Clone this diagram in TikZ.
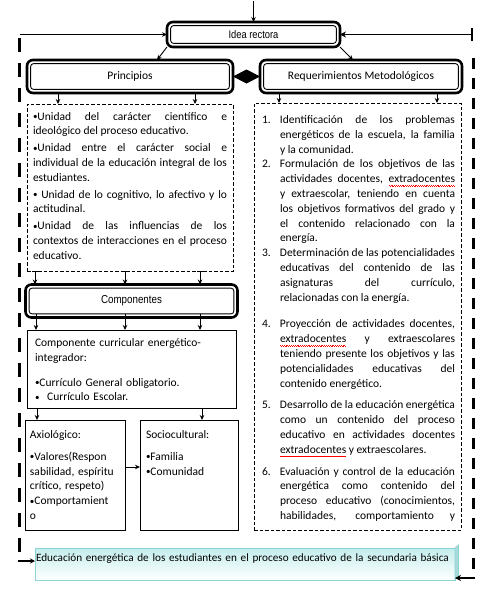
\documentclass[tikz,border=0pt]{standalone}
\usepackage{fontspec}
\setmainfont{Carlito}
\newfontfamily\arialn[FakeStretch=0.85]{Liberation Sans}
\usetikzlibrary{arrows.meta,calc}
\definecolor{cyanborder}{HTML}{8CD3D3}
\definecolor{cyantop}{HTML}{C4EDED}
\definecolor{cyanface}{HTML}{A9DADA}
\newsavebox\spellbox
\newcommand\spell[1]{\sbox\spellbox{#1}\rlap{\color{red}\hbox to \wd\spellbox{\xleaders\hbox{\vrule width 0.9pt height -2.2pt depth 2.9pt\vrule width 0.9pt height -2.8pt depth 3.5pt}\hfil}}\usebox\spellbox}
\newcommand\numit[1]{\noindent\hangindent=18pt\hangafter=1\makebox[18pt][l]{#1}}
\newcommand\bul{{\fontsize{9}{9}\selectfont\raisebox{0.6pt}{•}}}
\begin{document}
\begin{tikzpicture}[x=1pt,y=-1pt,
  every node/.style={outer sep=0pt},
  dblbox/.style={draw, line width=2.6pt, rounded corners=6pt, inner sep=0pt,
     font=\fontsize{11.5}{13}\selectfont},
  innerline/.style={draw, line width=0.9pt, rounded corners=3pt},
  dashbox/.style={draw, line width=0.8pt, dash pattern=on 3.5pt off 2pt, inner sep=0pt},
  sbox/.style={draw, line width=0.9pt, inner sep=0pt},
  botbox/.style={draw=cyanborder, line width=0.9pt, top color=cyantop, bottom color=white, inner sep=0pt},
  jtxt/.style={inner sep=0pt, anchor=base west, align=justify,
     font=\fontsize{11.5}{14.8}\selectfont},
  ltxt/.style={inner sep=0pt, anchor=base west, align=left,
     font=\fontsize{11.5}{14.8}\selectfont},
  arr/.style={line width=0.9pt, -{Stealth[length=5pt,width=4.5pt]}},
  barr/.style={line width=0.9pt, {Bar[width=6pt]}-{Stealth[length=5pt,width=4.5pt]}},
  thickarr/.style={line width=1.8pt, -{Stealth[length=6pt,width=6pt]}},
  ldash/.style={line width=3pt, dash pattern=on 14pt off 11pt},
  rdash/.style={line width=3pt, dash pattern=on 11pt off 9pt},
]
\useasboundingbox (0,0) rectangle (483,592);
\fill[white] (0,0) rectangle (483,592);

% boxes
\node[dblbox, minimum width=173pt, minimum height=25pt, font=\arialn\fontsize{11}{13}\selectfont] (idea) at (253.5,34.5) {Idea rectora};
\node[dblbox, minimum width=206pt, minimum height=33pt] (princ) at (130,76.5) {Principios};
\node[dblbox, minimum width=202pt, minimum height=33pt] (req) at (361,76.5) {Requerimientos Metodológicos};
\node[dashbox, minimum width=206pt, minimum height=167pt] (pbox) at (130,187.5) {};
\node[dblbox, minimum width=212pt, minimum height=33pt, font=\arialn\fontsize{11.5}{13}\selectfont] (comp) at (131.5,301) {Componentes};
\node[sbox, minimum width=209pt, minimum height=78pt] (curr) at (131.5,369) {};
\node[sbox, minimum width=100pt, minimum height=110pt] (axio) at (75,475) {};
\node[sbox, minimum width=98pt, minimum height=110pt] (socio) at (189,475) {};
\node[dashbox, minimum width=207pt, minimum height=427pt] (rbox) at (357.5,316.5) {};
\node[botbox, minimum width=420pt, minimum height=32pt] (bottom) at (245,564) {};
\filldraw[draw=cyanborder, fill=cyanface, line width=0.6pt] (bottom.north east) -- ++(3.5,-3) -- ++(0,31) -- (bottom.south east) -- cycle;

\foreach \n in {idea,princ,req,comp}
  \draw[innerline] ([shift={(3.6pt,-3.6pt)}]\n.north west) rectangle ([shift={(-3.6pt,3.6pt)}]\n.south east);

% texts
\node[jtxt, text width=194pt] (ptxt) at (33,120) {%
\bul Unidad del carácter científico e\linebreak ideológico del proceso educativo.\par\vspace{2pt}
\bul Unidad entre el carácter social e\linebreak individual de la educación integral de los\linebreak estudiantes.\par\vspace{2pt}
\bul\ Unidad de lo cognitivo, lo afectivo y lo\linebreak actitudinal.\par\vspace{2pt}
\bul Unidad de las influencias de los\linebreak contextos de interacciones en el proceso\linebreak educativo.\par};

\node[jtxt, text width=193pt] (rtxt) at (262,123.5) {%
\numit{1.}Identificación de los problemas\linebreak energéticos de la escuela, la familia\linebreak y la comunidad.\par
\numit{2.}Formulación de los objetivos de las\linebreak actividades docentes, \spell{extradocentes}\linebreak y extraescolar, teniendo en cuenta\linebreak los objetivos formativos del grado y\linebreak el contenido relacionado con la\linebreak energía.\par
\numit{3.}Determinación de las potencialidades\linebreak educativas del contenido de las\linebreak asignaturas del currículo,\linebreak relacionadas con la energía.\par\vspace{12pt}
\numit{4.}Proyección de actividades docentes,\linebreak \spell{extradocentes} y extraescolares\linebreak teniendo presente los objetivos y las\linebreak potencialidades educativas del\linebreak contenido energético.\par\vspace{7pt}
\numit{5.}Desarrollo de la educación energética\linebreak como un contenido del proceso\linebreak educativo en actividades docentes\linebreak \spell{extradocentes} y extraescolares.\par\vspace{7pt}
\numit{6.}Evaluación y control de la educación\linebreak energética como contenido del\linebreak proceso educativo (conocimientos,\linebreak habilidades, comportamiento y\parfillskip=0pt\par};

\node[ltxt, text width=200pt] (ctxt) at (35,346.5) {Componente curricular energético-\\integrador:\\[10pt]\bul Currículo General obligatorio.\\\bul\ \ Currículo Escolar.};
\node[ltxt, text width=95pt] (atxt) at (30,438.5) {Axiológico:\\[7pt]\bul Valores(Respon\\sabilidad, espíritu\\crítico, respeto)\\\bul Comportamient\\o};
\node[ltxt, text width=90pt] (stxt) at (146,438.5) {Sociocultural:\\[7pt]\bul Familia\\\bul Comunidad};
\node[ltxt, text width=425pt, font=\fontsize{11.2}{13}\selectfont] (btxt) at (36,561) {Educación energética de los estudiantes en el proceso educativo de la secundaria básica};

% connectors
\coordinate (topc) at (253.5,1);
\coordinate (lt) at (20,34.5);
\coordinate (rt) at (473,34.5);
\coordinate (l1) at (19,38);
\coordinate (l2) at (19,561);
\coordinate (r1) at (473,58);
\coordinate (r2) at (473,578);

\draw[arr] (topc) -- (idea.north);
\draw[arr] (lt) -- (idea.west);
\draw[line width=1.8pt, {Bar[width=13pt]}-{Stealth[length=6pt,width=6pt]}] (rt) -- (idea.east);
\draw[arr] (idea.south west) -- ([xshift=27pt]princ.north);
\draw[arr] (idea.south east) -- ([xshift=-8pt]req.north);
\draw[line width=0.8pt, -{Diamond[length=27pt,width=14pt]}] (princ.east) -- (req.west);

\draw[arr] ([xshift=-72pt]princ.south) -- ([xshift=-72pt]pbox.north);
\draw[barr] ([xshift=65pt]princ.south) -- ([xshift=65pt]pbox.north);
\draw[arr] ([xshift=-82pt]req.south) -- ([xshift=-78.5pt]rbox.north);
\draw[arr] ([xshift=76pt]req.south) -- ([xshift=79.5pt]rbox.north);

\draw[barr] ([xshift=-95pt]pbox.south) -- ([xshift=-96.5pt]comp.north);
\draw[barr] ([xshift=-5pt]pbox.south) -- ([xshift=-6.5pt]comp.north);
\draw[barr] ([xshift=70pt]pbox.south) -- ([xshift=68.5pt]comp.north);

\draw[arr] ([xshift=-95.5pt,yshift=4pt]comp.south) -- ([xshift=-95.5pt]curr.north);
\draw[arr] ([xshift=-6.5pt,yshift=4pt]comp.south) -- ([xshift=-6.5pt]curr.north);
\draw[arr] ([xshift=68.5pt,yshift=4pt]comp.south) -- ([xshift=68.5pt]curr.north);

\draw[arr] ([xshift=-94.5pt]curr.south) -- ([xshift=-38pt]axio.north);
\draw[arr] ([xshift=70.5pt]curr.south) -- ([xshift=13pt]socio.north);
\draw[arr] ([yshift=8pt]axio.east) -- ([yshift=8pt]socio.west);

\draw[ldash] (l1) -- (l2);
\draw[line width=1.5pt, -{Stealth[length=5pt,width=5pt]}] ([xshift=-1.5pt]l2) -- (l2 -| bottom.west);
\draw[rdash] (r1) -- (r2);
\draw[thickarr] ([xshift=1.5pt]r2) -- (r2 -| bottom.east);
\end{tikzpicture}
\end{document}
